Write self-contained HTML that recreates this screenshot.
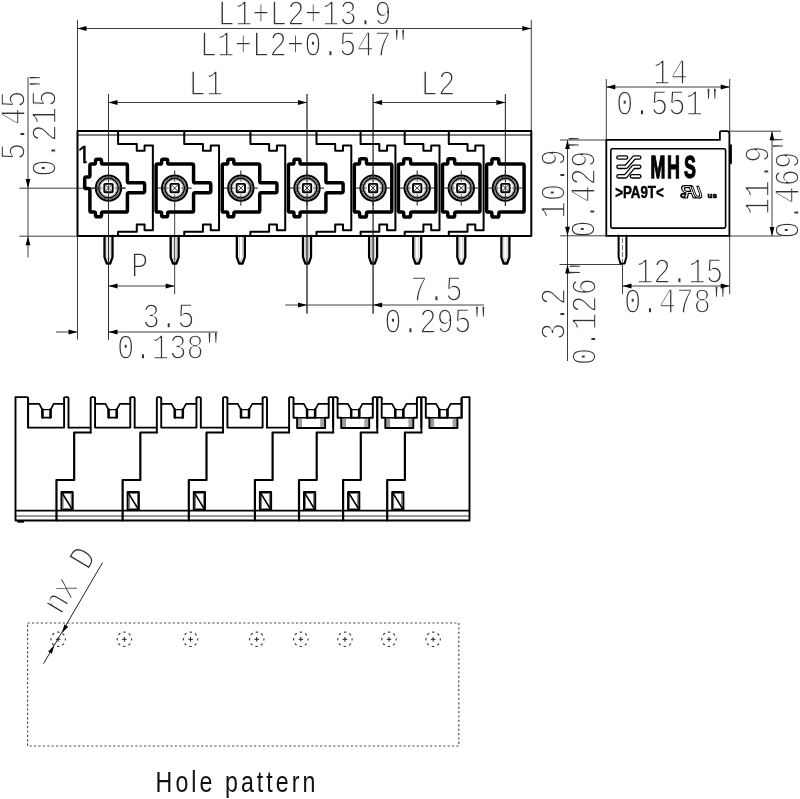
<!DOCTYPE html>
<html><head><meta charset="utf-8"><title>Hole pattern drawing</title>
<style>
html,body{margin:0;padding:0;background:#fff;}
svg{display:block;will-change:transform;filter:grayscale(1);}
.d{font-family:"Liberation Mono","DejaVu Sans Mono",monospace;fill:#333;stroke:#fff;stroke-width:1.55px;}
.b{fill:none;stroke:#000;stroke-linejoin:round;stroke-linecap:round;}
.lab{font-family:"Liberation Sans","DejaVu Sans",sans-serif;font-weight:bold;fill:#000;}
</style></head><body>
<svg width="800" height="799" viewBox="0 0 800 799">
<rect width="800" height="799" fill="#fff"/>

<g id="dimtext">
<text class="d" transform="translate(217.50,25.10) rotate(0) scale(0.798,1)" font-size="36.4">L1+L2+13.9</text>
<text class="d" transform="translate(199.70,55.70) rotate(0) scale(0.798,1)" font-size="36.4">L1+L2+0.547"</text>
<text class="d" transform="translate(188.50,95.20) rotate(0) scale(0.798,1)" font-size="36.4">L1</text>
<text class="d" transform="translate(420.60,95.20) rotate(0) scale(0.798,1)" font-size="36.4">L2</text>
<text class="d" transform="translate(130.90,276.70) rotate(0) scale(0.798,1)" font-size="36.4">P</text>
<text class="d" transform="translate(142.50,327.70) rotate(0) scale(0.798,1)" font-size="36.4">3.5</text>
<text class="d" transform="translate(116.90,358.70) rotate(0) scale(0.798,1)" font-size="36.4">0.138"</text>
<text class="d" transform="translate(410.30,301.30) rotate(0) scale(0.798,1)" font-size="36.4">7.5</text>
<text class="d" transform="translate(384.30,332.70) rotate(0) scale(0.798,1)" font-size="36.4">0.295"</text>
<text class="d" transform="translate(653.00,83.70) rotate(0) scale(0.798,1)" font-size="36.4">14</text>
<text class="d" transform="translate(615.90,115.20) rotate(0) scale(0.798,1)" font-size="36.4">0.551"</text>
<text class="d" transform="translate(636.00,282.70) rotate(0) scale(0.798,1)" font-size="36.4">12.15</text>
<text class="d" transform="translate(623.90,313.20) rotate(0) scale(0.798,1)" font-size="36.4">0.478"</text>
<text class="d" transform="translate(24.90,160.20) rotate(-90) scale(0.798,1)" font-size="36.4">5.45</text>
<text class="d" transform="translate(56.40,176.70) rotate(-90) scale(0.798,1)" font-size="36.4">0.215"</text>
<text class="d" transform="translate(564.90,218.70) rotate(-90) scale(0.798,1)" font-size="36.4">10.9</text>
<text class="d" transform="translate(594.90,237.70) rotate(-90) scale(0.798,1)" font-size="36.4">0.429"</text>
<text class="d" transform="translate(768.90,215.20) rotate(-90) scale(0.798,1)" font-size="36.4">11.9</text>
<text class="d" transform="translate(799.40,238.70) rotate(-90) scale(0.798,1)" font-size="36.4">0.469"</text>
<text class="d" transform="translate(564.90,340.20) rotate(-90) scale(0.798,1)" font-size="36.4">3.2</text>
<text class="d" transform="translate(596.40,365.20) rotate(-90) scale(0.798,1)" font-size="36.4">0.126"</text>
</g>
<g id="dimlines">
<line x1="77.50" y1="19.80" x2="77.50" y2="339.60" stroke="#2a2a2a" stroke-width="0.9" />
<line x1="531.30" y1="19.80" x2="531.30" y2="131.10" stroke="#2a2a2a" stroke-width="0.9" />
<line x1="77.50" y1="28.50" x2="531.30" y2="28.50" stroke="#2a2a2a" stroke-width="0.9" />
<polygon points="77.50,28.50 86.50,26.10 86.50,30.90" fill="#000"/>
<polygon points="531.30,28.50 522.30,30.90 522.30,26.10" fill="#000"/>
<line x1="108.50" y1="94.00" x2="108.50" y2="339.60" stroke="#2a2a2a" stroke-width="0.9" />
<line x1="307.01" y1="94.00" x2="307.01" y2="313.60" stroke="#2a2a2a" stroke-width="0.9" />
<line x1="108.50" y1="102.50" x2="307.01" y2="102.50" stroke="#2a2a2a" stroke-width="0.9" />
<polygon points="108.50,102.50 117.50,100.10 117.50,104.90" fill="#000"/>
<polygon points="307.01,102.50 298.01,104.90 298.01,100.10" fill="#000"/>
<line x1="373.10" y1="94.00" x2="373.10" y2="313.60" stroke="#2a2a2a" stroke-width="0.9" />
<line x1="505.40" y1="94.00" x2="505.40" y2="206.00" stroke="#2a2a2a" stroke-width="0.9" />
<line x1="373.10" y1="102.50" x2="505.40" y2="102.50" stroke="#2a2a2a" stroke-width="0.9" />
<polygon points="373.10,102.50 382.10,100.10 382.10,104.90" fill="#000"/>
<polygon points="505.40,102.50 496.40,104.90 496.40,100.10" fill="#000"/>
<line x1="28.00" y1="77.00" x2="28.00" y2="257.40" stroke="#2a2a2a" stroke-width="0.9" />
<polygon points="28.00,188.10 25.60,179.10 30.40,179.10" fill="#000"/>
<polygon points="28.00,236.20 30.40,245.20 25.60,245.20" fill="#000"/>
<line x1="19.30" y1="188.20" x2="125.50" y2="188.20" stroke="#2a2a2a" stroke-width="0.9" />
<line x1="19.30" y1="236.20" x2="77.50" y2="236.20" stroke="#2a2a2a" stroke-width="0.9" />
<line x1="174.67" y1="205.10" x2="174.67" y2="294.00" stroke="#2a2a2a" stroke-width="0.9" />
<line x1="108.50" y1="286.00" x2="174.67" y2="286.00" stroke="#2a2a2a" stroke-width="0.9" />
<polygon points="108.50,286.00 117.50,283.60 117.50,288.40" fill="#000"/>
<polygon points="174.67,286.00 165.67,288.40 165.67,283.60" fill="#000"/>
<line x1="56.00" y1="332.00" x2="77.50" y2="332.00" stroke="#2a2a2a" stroke-width="0.9" />
<line x1="108.50" y1="332.00" x2="217.70" y2="332.00" stroke="#2a2a2a" stroke-width="0.9" />
<polygon points="77.50,332.00 68.50,334.40 68.50,329.60" fill="#000"/>
<polygon points="108.50,332.00 117.50,329.60 117.50,334.40" fill="#000"/>
<line x1="285.30" y1="305.00" x2="484.00" y2="305.00" stroke="#2a2a2a" stroke-width="0.9" />
<polygon points="307.01,305.00 298.01,307.40 298.01,302.60" fill="#000"/>
<polygon points="373.10,305.00 382.10,302.60 382.10,307.40" fill="#000"/>
<line x1="567.50" y1="140.00" x2="567.50" y2="361.00" stroke="#2a2a2a" stroke-width="0.9" />
<polygon points="567.50,140.00 569.90,149.00 565.10,149.00" fill="#000"/>
<polygon points="567.50,235.80 565.10,226.80 569.90,226.80" fill="#000"/>
<polygon points="567.50,264.50 569.90,273.50 565.10,273.50" fill="#000"/>
<line x1="560.00" y1="140.00" x2="606.00" y2="140.00" stroke="#2a2a2a" stroke-width="0.9" />
<line x1="560.00" y1="235.80" x2="606.00" y2="235.80" stroke="#2a2a2a" stroke-width="0.9" />
<line x1="559.50" y1="264.50" x2="622.50" y2="264.50" stroke="#2a2a2a" stroke-width="0.9" />
<line x1="606.30" y1="79.00" x2="606.30" y2="140.00" stroke="#2a2a2a" stroke-width="0.9" />
<line x1="729.70" y1="79.00" x2="729.70" y2="131.00" stroke="#2a2a2a" stroke-width="0.9" />
<line x1="606.30" y1="87.00" x2="729.70" y2="87.00" stroke="#2a2a2a" stroke-width="0.9" />
<polygon points="606.30,87.00 615.30,84.60 615.30,89.40" fill="#000"/>
<polygon points="729.70,87.00 720.70,89.40 720.70,84.60" fill="#000"/>
<line x1="772.00" y1="131.20" x2="772.00" y2="236.00" stroke="#2a2a2a" stroke-width="0.9" />
<polygon points="772.00,131.20 774.40,140.20 769.60,140.20" fill="#000"/>
<polygon points="772.00,236.00 769.60,227.00 774.40,227.00" fill="#000"/>
<line x1="729.70" y1="131.20" x2="781.00" y2="131.20" stroke="#2a2a2a" stroke-width="0.9" />
<line x1="729.70" y1="236.00" x2="781.00" y2="236.00" stroke="#2a2a2a" stroke-width="0.9" />
<line x1="622.50" y1="264.50" x2="622.50" y2="294.00" stroke="#2a2a2a" stroke-width="0.9" />
<line x1="729.70" y1="236.00" x2="729.70" y2="294.00" stroke="#2a2a2a" stroke-width="0.9" />
<line x1="622.50" y1="286.00" x2="729.70" y2="286.00" stroke="#2a2a2a" stroke-width="0.9" />
<polygon points="622.50,286.00 631.50,283.60 631.50,288.40" fill="#000"/>
<polygon points="729.70,286.00 720.70,288.40 720.70,283.60" fill="#000"/>
</g>
<g id="topview">
<line x1="91.50" y1="188.10" x2="125.50" y2="188.10" stroke="#2a2a2a" stroke-width="0.7" />
<line x1="108.50" y1="170.60" x2="108.50" y2="205.60" stroke="#2a2a2a" stroke-width="0.7" />
<line x1="157.67" y1="188.10" x2="191.67" y2="188.10" stroke="#2a2a2a" stroke-width="0.7" />
<line x1="174.67" y1="170.60" x2="174.67" y2="205.60" stroke="#2a2a2a" stroke-width="0.7" />
<line x1="223.84" y1="188.10" x2="257.84" y2="188.10" stroke="#2a2a2a" stroke-width="0.7" />
<line x1="240.84" y1="170.60" x2="240.84" y2="205.60" stroke="#2a2a2a" stroke-width="0.7" />
<line x1="290.01" y1="188.10" x2="324.01" y2="188.10" stroke="#2a2a2a" stroke-width="0.7" />
<line x1="307.01" y1="170.60" x2="307.01" y2="205.60" stroke="#2a2a2a" stroke-width="0.7" />
<line x1="356.10" y1="188.10" x2="390.10" y2="188.10" stroke="#2a2a2a" stroke-width="0.7" />
<line x1="373.10" y1="170.60" x2="373.10" y2="205.60" stroke="#2a2a2a" stroke-width="0.7" />
<line x1="400.20" y1="188.10" x2="434.20" y2="188.10" stroke="#2a2a2a" stroke-width="0.7" />
<line x1="417.20" y1="170.60" x2="417.20" y2="205.60" stroke="#2a2a2a" stroke-width="0.7" />
<line x1="444.30" y1="188.10" x2="478.30" y2="188.10" stroke="#2a2a2a" stroke-width="0.7" />
<line x1="461.30" y1="170.60" x2="461.30" y2="205.60" stroke="#2a2a2a" stroke-width="0.7" />
<line x1="488.40" y1="188.10" x2="522.40" y2="188.10" stroke="#2a2a2a" stroke-width="0.7" />
<line x1="505.40" y1="170.60" x2="505.40" y2="205.60" stroke="#2a2a2a" stroke-width="0.7" />
<rect class="b" x="77.5" y="131.1" width="453.80" height="104.80" stroke-width="2"/>
<line x1="77.50" y1="135.00" x2="531.30" y2="135.00" stroke="#000" stroke-width="1.0" />
<path class="b" stroke-width="2" d="M118.07,131.1 V143.9 H136.77 V150.8 H144.57 V145.5 H152.87 V230.3 H144.57 V224.4 H136.77 V231.7 H118.07 V235.9"/>
<path class="b" stroke-width="2" d="M184.24,131.1 V143.9 H202.94 V150.8 H210.74 V145.5 H219.04 V230.3 H210.74 V224.4 H202.94 V231.7 H184.24 V235.9"/>
<path class="b" stroke-width="2" d="M250.41,131.1 V143.9 H269.11 V150.8 H276.91 V145.5 H285.21 V230.3 H276.91 V224.4 H269.11 V231.7 H250.41 V235.9"/>
<path class="b" stroke-width="2" d="M316.50,131.1 V143.9 H335.20 V150.8 H343.00 V145.5 H351.30 V230.3 H343.00 V224.4 H335.20 V231.7 H316.50 V235.9"/>
<path class="b" stroke-width="2" d="M360.60,131.1 V143.9 H379.30 V150.8 H387.10 V145.5 H395.40 V230.3 H387.10 V224.4 H379.30 V231.7 H360.60 V235.9"/>
<path class="b" stroke-width="2" d="M404.70,131.1 V143.9 H423.40 V150.8 H431.20 V145.5 H439.50 V230.3 H431.20 V224.4 H423.40 V231.7 H404.70 V235.9"/>
<path class="b" stroke-width="2" d="M448.80,131.1 V143.9 H467.50 V150.8 H475.30 V145.5 H483.60 V230.3 H475.30 V224.4 H467.50 V231.7 H448.80 V235.9"/>
<g transform="translate(108.50,188.1)"><path class="b" stroke-width="3.5" d="M-18.60,-22.40 Q-18.60,-24.00 -17.00,-24.00 L-14.60,-24.00 Q-13.00,-24.00 -13.00,-25.60 L-13.00,-27.30 Q-13.00,-28.90 -11.40,-28.90 L-8.60,-28.90 Q-7.00,-28.90 -7.00,-27.30 L-7.00,-25.60 Q-7.00,-24.00 -5.40,-24.00 L17.30,-24.00 Q18.90,-24.00 18.90,-22.40 L18.90,-6.90 Q18.90,-5.30 20.50,-5.30 L34.50,-5.30 Q36.10,-5.30 36.10,-3.70 L36.10,3.00 Q36.10,4.60 34.50,4.60 L20.50,4.60 Q18.90,4.60 18.90,6.20 L18.90,22.40 Q18.90,24.00 17.30,24.00 L-5.40,24.00 Q-7.00,24.00 -7.00,25.60 L-7.00,27.10 Q-7.00,28.70 -8.60,28.70 L-11.40,28.70 Q-13.00,28.70 -13.00,27.10 L-13.00,25.60 Q-13.00,24.00 -14.60,24.00 L-17.00,24.00 Q-18.60,24.00 -18.60,22.40 L-18.60,2.10 Q-18.60,0.50 -20.20,0.50 L-22.20,0.50 Q-23.80,0.50 -23.80,-1.10 L-23.80,-9.40 Q-23.80,-11.00 -22.20,-11.00 L-20.20,-11.00 Q-18.60,-11.00 -18.60,-12.60 Z"/><circle r="12.7" fill="#fff" stroke="#000" stroke-width="2"/><circle r="11.2" fill="none" stroke="#444" stroke-width="0.9"/><circle r="9.8" fill="none" stroke="#000" stroke-width="1.5"/><circle r="8.4" fill="none" stroke="#666" stroke-width="0.6"/><line x1="-17" y1="0" x2="-6" y2="0" stroke="#333" stroke-width="0.7"/><line x1="6" y1="0" x2="17" y2="0" stroke="#333" stroke-width="0.7"/><line y1="-17.5" x1="0" y2="-6" x2="0" stroke="#333" stroke-width="0.7"/><line y1="6" x1="0" y2="17.5" x2="0" stroke="#333" stroke-width="0.7"/><rect x="-4.2" y="-4.2" width="8.4" height="8.4" rx="0.8" fill="#fff" stroke="#000" stroke-width="1.9"/><path d="M-3,-3 L3,3 M3,-3 L-3,3" stroke="#000" stroke-width="0.8" fill="none"/></g>
<g transform="translate(174.67,188.1)"><path class="b" stroke-width="3.5" d="M-18.60,-22.40 Q-18.60,-24.00 -17.00,-24.00 L-14.60,-24.00 Q-13.00,-24.00 -13.00,-25.60 L-13.00,-27.30 Q-13.00,-28.90 -11.40,-28.90 L-8.60,-28.90 Q-7.00,-28.90 -7.00,-27.30 L-7.00,-25.60 Q-7.00,-24.00 -5.40,-24.00 L17.30,-24.00 Q18.90,-24.00 18.90,-22.40 L18.90,-6.90 Q18.90,-5.30 20.50,-5.30 L34.50,-5.30 Q36.10,-5.30 36.10,-3.70 L36.10,3.00 Q36.10,4.60 34.50,4.60 L20.50,4.60 Q18.90,4.60 18.90,6.20 L18.90,22.40 Q18.90,24.00 17.30,24.00 L-5.40,24.00 Q-7.00,24.00 -7.00,25.60 L-7.00,27.10 Q-7.00,28.70 -8.60,28.70 L-11.40,28.70 Q-13.00,28.70 -13.00,27.10 L-13.00,25.60 Q-13.00,24.00 -14.60,24.00 L-17.00,24.00 Q-18.60,24.00 -18.60,22.40 Z"/><circle r="12.7" fill="#fff" stroke="#000" stroke-width="2"/><circle r="11.2" fill="none" stroke="#444" stroke-width="0.9"/><circle r="9.8" fill="none" stroke="#000" stroke-width="1.5"/><circle r="8.4" fill="none" stroke="#666" stroke-width="0.6"/><line x1="-17" y1="0" x2="-6" y2="0" stroke="#333" stroke-width="0.7"/><line x1="6" y1="0" x2="17" y2="0" stroke="#333" stroke-width="0.7"/><line y1="-17.5" x1="0" y2="-6" x2="0" stroke="#333" stroke-width="0.7"/><line y1="6" x1="0" y2="17.5" x2="0" stroke="#333" stroke-width="0.7"/><rect x="-4.2" y="-4.2" width="8.4" height="8.4" rx="0.8" fill="#fff" stroke="#000" stroke-width="1.9"/><path d="M-3,-3 L3,3 M3,-3 L-3,3" stroke="#000" stroke-width="0.8" fill="none"/></g>
<g transform="translate(240.84,188.1)"><path class="b" stroke-width="3.5" d="M-18.60,-22.40 Q-18.60,-24.00 -17.00,-24.00 L-14.60,-24.00 Q-13.00,-24.00 -13.00,-25.60 L-13.00,-27.30 Q-13.00,-28.90 -11.40,-28.90 L-8.60,-28.90 Q-7.00,-28.90 -7.00,-27.30 L-7.00,-25.60 Q-7.00,-24.00 -5.40,-24.00 L17.30,-24.00 Q18.90,-24.00 18.90,-22.40 L18.90,-6.90 Q18.90,-5.30 20.50,-5.30 L34.50,-5.30 Q36.10,-5.30 36.10,-3.70 L36.10,3.00 Q36.10,4.60 34.50,4.60 L20.50,4.60 Q18.90,4.60 18.90,6.20 L18.90,22.40 Q18.90,24.00 17.30,24.00 L-5.40,24.00 Q-7.00,24.00 -7.00,25.60 L-7.00,27.10 Q-7.00,28.70 -8.60,28.70 L-11.40,28.70 Q-13.00,28.70 -13.00,27.10 L-13.00,25.60 Q-13.00,24.00 -14.60,24.00 L-17.00,24.00 Q-18.60,24.00 -18.60,22.40 Z"/><circle r="12.7" fill="#fff" stroke="#000" stroke-width="2"/><circle r="11.2" fill="none" stroke="#444" stroke-width="0.9"/><circle r="9.8" fill="none" stroke="#000" stroke-width="1.5"/><circle r="8.4" fill="none" stroke="#666" stroke-width="0.6"/><line x1="-17" y1="0" x2="-6" y2="0" stroke="#333" stroke-width="0.7"/><line x1="6" y1="0" x2="17" y2="0" stroke="#333" stroke-width="0.7"/><line y1="-17.5" x1="0" y2="-6" x2="0" stroke="#333" stroke-width="0.7"/><line y1="6" x1="0" y2="17.5" x2="0" stroke="#333" stroke-width="0.7"/><rect x="-4.2" y="-4.2" width="8.4" height="8.4" rx="0.8" fill="#fff" stroke="#000" stroke-width="1.9"/><path d="M-3,-3 L3,3 M3,-3 L-3,3" stroke="#000" stroke-width="0.8" fill="none"/></g>
<g transform="translate(307.01,188.1)"><path class="b" stroke-width="3.5" d="M-18.60,-22.40 Q-18.60,-24.00 -17.00,-24.00 L-14.60,-24.00 Q-13.00,-24.00 -13.00,-25.60 L-13.00,-27.30 Q-13.00,-28.90 -11.40,-28.90 L-8.60,-28.90 Q-7.00,-28.90 -7.00,-27.30 L-7.00,-25.60 Q-7.00,-24.00 -5.40,-24.00 L17.30,-24.00 Q18.90,-24.00 18.90,-22.40 L18.90,-6.90 Q18.90,-5.30 20.50,-5.30 L34.50,-5.30 Q36.10,-5.30 36.10,-3.70 L36.10,3.00 Q36.10,4.60 34.50,4.60 L20.50,4.60 Q18.90,4.60 18.90,6.20 L18.90,22.40 Q18.90,24.00 17.30,24.00 L-5.40,24.00 Q-7.00,24.00 -7.00,25.60 L-7.00,27.10 Q-7.00,28.70 -8.60,28.70 L-11.40,28.70 Q-13.00,28.70 -13.00,27.10 L-13.00,25.60 Q-13.00,24.00 -14.60,24.00 L-17.00,24.00 Q-18.60,24.00 -18.60,22.40 Z"/><circle r="12.7" fill="#fff" stroke="#000" stroke-width="2"/><circle r="11.2" fill="none" stroke="#444" stroke-width="0.9"/><circle r="9.8" fill="none" stroke="#000" stroke-width="1.5"/><circle r="8.4" fill="none" stroke="#666" stroke-width="0.6"/><line x1="-17" y1="0" x2="-6" y2="0" stroke="#333" stroke-width="0.7"/><line x1="6" y1="0" x2="17" y2="0" stroke="#333" stroke-width="0.7"/><line y1="-17.5" x1="0" y2="-6" x2="0" stroke="#333" stroke-width="0.7"/><line y1="6" x1="0" y2="17.5" x2="0" stroke="#333" stroke-width="0.7"/><rect x="-4.2" y="-4.2" width="8.4" height="8.4" rx="0.8" fill="#fff" stroke="#000" stroke-width="1.9"/><path d="M-3,-3 L3,3 M3,-3 L-3,3" stroke="#000" stroke-width="0.8" fill="none"/></g>
<g transform="translate(373.10,188.1)"><path class="b" stroke-width="3.5" d="M-18.80,-22.40 Q-18.80,-24.00 -17.20,-24.00 L-15.10,-24.00 Q-13.50,-24.00 -13.50,-25.60 L-13.50,-27.70 Q-13.50,-29.30 -11.90,-29.30 L-8.20,-29.30 Q-6.60,-29.30 -6.60,-27.70 L-6.60,-25.60 Q-6.60,-24.00 -5.00,-24.00 L17.10,-24.00 Q18.70,-24.00 18.70,-22.40 L18.70,22.40 Q18.70,24.00 17.10,24.00 L-5.00,24.00 Q-6.60,24.00 -6.60,25.60 L-6.60,27.40 Q-6.60,29.00 -8.20,29.00 L-11.90,29.00 Q-13.50,29.00 -13.50,27.40 L-13.50,25.60 Q-13.50,24.00 -15.10,24.00 L-17.20,24.00 Q-18.80,24.00 -18.80,22.40 Z"/><circle r="12.7" fill="#fff" stroke="#000" stroke-width="2"/><circle r="11.2" fill="none" stroke="#444" stroke-width="0.9"/><circle r="9.8" fill="none" stroke="#000" stroke-width="1.5"/><circle r="8.4" fill="none" stroke="#666" stroke-width="0.6"/><line x1="-17" y1="0" x2="-6" y2="0" stroke="#333" stroke-width="0.7"/><line x1="6" y1="0" x2="17" y2="0" stroke="#333" stroke-width="0.7"/><line y1="-17.5" x1="0" y2="-6" x2="0" stroke="#333" stroke-width="0.7"/><line y1="6" x1="0" y2="17.5" x2="0" stroke="#333" stroke-width="0.7"/><rect x="-4.2" y="-4.2" width="8.4" height="8.4" rx="0.8" fill="#fff" stroke="#000" stroke-width="1.9"/><path d="M-3,-3 L3,3 M3,-3 L-3,3" stroke="#000" stroke-width="0.8" fill="none"/></g>
<g transform="translate(417.20,188.1)"><path class="b" stroke-width="3.5" d="M-18.80,-22.40 Q-18.80,-24.00 -17.20,-24.00 L-15.10,-24.00 Q-13.50,-24.00 -13.50,-25.60 L-13.50,-27.70 Q-13.50,-29.30 -11.90,-29.30 L-8.20,-29.30 Q-6.60,-29.30 -6.60,-27.70 L-6.60,-25.60 Q-6.60,-24.00 -5.00,-24.00 L17.10,-24.00 Q18.70,-24.00 18.70,-22.40 L18.70,22.40 Q18.70,24.00 17.10,24.00 L-5.00,24.00 Q-6.60,24.00 -6.60,25.60 L-6.60,27.40 Q-6.60,29.00 -8.20,29.00 L-11.90,29.00 Q-13.50,29.00 -13.50,27.40 L-13.50,25.60 Q-13.50,24.00 -15.10,24.00 L-17.20,24.00 Q-18.80,24.00 -18.80,22.40 Z"/><circle r="12.7" fill="#fff" stroke="#000" stroke-width="2"/><circle r="11.2" fill="none" stroke="#444" stroke-width="0.9"/><circle r="9.8" fill="none" stroke="#000" stroke-width="1.5"/><circle r="8.4" fill="none" stroke="#666" stroke-width="0.6"/><line x1="-17" y1="0" x2="-6" y2="0" stroke="#333" stroke-width="0.7"/><line x1="6" y1="0" x2="17" y2="0" stroke="#333" stroke-width="0.7"/><line y1="-17.5" x1="0" y2="-6" x2="0" stroke="#333" stroke-width="0.7"/><line y1="6" x1="0" y2="17.5" x2="0" stroke="#333" stroke-width="0.7"/><rect x="-4.2" y="-4.2" width="8.4" height="8.4" rx="0.8" fill="#fff" stroke="#000" stroke-width="1.9"/><path d="M-3,-3 L3,3 M3,-3 L-3,3" stroke="#000" stroke-width="0.8" fill="none"/></g>
<g transform="translate(461.30,188.1)"><path class="b" stroke-width="3.5" d="M-18.80,-22.40 Q-18.80,-24.00 -17.20,-24.00 L-15.10,-24.00 Q-13.50,-24.00 -13.50,-25.60 L-13.50,-27.70 Q-13.50,-29.30 -11.90,-29.30 L-8.20,-29.30 Q-6.60,-29.30 -6.60,-27.70 L-6.60,-25.60 Q-6.60,-24.00 -5.00,-24.00 L17.10,-24.00 Q18.70,-24.00 18.70,-22.40 L18.70,22.40 Q18.70,24.00 17.10,24.00 L-5.00,24.00 Q-6.60,24.00 -6.60,25.60 L-6.60,27.40 Q-6.60,29.00 -8.20,29.00 L-11.90,29.00 Q-13.50,29.00 -13.50,27.40 L-13.50,25.60 Q-13.50,24.00 -15.10,24.00 L-17.20,24.00 Q-18.80,24.00 -18.80,22.40 Z"/><circle r="12.7" fill="#fff" stroke="#000" stroke-width="2"/><circle r="11.2" fill="none" stroke="#444" stroke-width="0.9"/><circle r="9.8" fill="none" stroke="#000" stroke-width="1.5"/><circle r="8.4" fill="none" stroke="#666" stroke-width="0.6"/><line x1="-17" y1="0" x2="-6" y2="0" stroke="#333" stroke-width="0.7"/><line x1="6" y1="0" x2="17" y2="0" stroke="#333" stroke-width="0.7"/><line y1="-17.5" x1="0" y2="-6" x2="0" stroke="#333" stroke-width="0.7"/><line y1="6" x1="0" y2="17.5" x2="0" stroke="#333" stroke-width="0.7"/><rect x="-4.2" y="-4.2" width="8.4" height="8.4" rx="0.8" fill="#fff" stroke="#000" stroke-width="1.9"/><path d="M-3,-3 L3,3 M3,-3 L-3,3" stroke="#000" stroke-width="0.8" fill="none"/></g>
<g transform="translate(505.40,188.1)"><path class="b" stroke-width="3.5" d="M-18.80,-22.40 Q-18.80,-24.00 -17.20,-24.00 L-15.10,-24.00 Q-13.50,-24.00 -13.50,-25.60 L-13.50,-27.70 Q-13.50,-29.30 -11.90,-29.30 L-8.20,-29.30 Q-6.60,-29.30 -6.60,-27.70 L-6.60,-25.60 Q-6.60,-24.00 -5.00,-24.00 L17.10,-24.00 Q18.70,-24.00 18.70,-22.40 L18.70,22.40 Q18.70,24.00 17.10,24.00 L-5.00,24.00 Q-6.60,24.00 -6.60,25.60 L-6.60,27.40 Q-6.60,29.00 -8.20,29.00 L-11.90,29.00 Q-13.50,29.00 -13.50,27.40 L-13.50,25.60 Q-13.50,24.00 -15.10,24.00 L-17.20,24.00 Q-18.80,24.00 -18.80,22.40 Z"/><circle r="12.7" fill="#fff" stroke="#000" stroke-width="2"/><circle r="11.2" fill="none" stroke="#444" stroke-width="0.9"/><circle r="9.8" fill="none" stroke="#000" stroke-width="1.5"/><circle r="8.4" fill="none" stroke="#666" stroke-width="0.6"/><line x1="-17" y1="0" x2="-6" y2="0" stroke="#333" stroke-width="0.7"/><line x1="6" y1="0" x2="17" y2="0" stroke="#333" stroke-width="0.7"/><line y1="-17.5" x1="0" y2="-6" x2="0" stroke="#333" stroke-width="0.7"/><line y1="6" x1="0" y2="17.5" x2="0" stroke="#333" stroke-width="0.7"/><rect x="-4.2" y="-4.2" width="8.4" height="8.4" rx="0.8" fill="#fff" stroke="#000" stroke-width="1.9"/><path d="M-3,-3 L3,3 M3,-3 L-3,3" stroke="#000" stroke-width="0.8" fill="none"/></g>
<path class="b" stroke-width="2.3" fill="#fff" d="M104.50,235.9 V257.2 L106.80,263.5 H110.20 L112.50,257.2 V235.9"/>
<path d="M106.90,236.9 V257 L108.50,262 L110.10,257 V236.9" fill="none" stroke="#888" stroke-width="0.5"/>
<path class="b" stroke-width="2.3" fill="#fff" d="M170.67,235.9 V257.2 L172.97,263.5 H176.37 L178.67,257.2 V235.9"/>
<path d="M173.07,236.9 V257 L174.67,262 L176.27,257 V236.9" fill="none" stroke="#888" stroke-width="0.5"/>
<path class="b" stroke-width="2.3" fill="#fff" d="M236.84,235.9 V257.2 L239.14,263.5 H242.54 L244.84,257.2 V235.9"/>
<path d="M239.24,236.9 V257 L240.84,262 L242.44,257 V236.9" fill="none" stroke="#888" stroke-width="0.5"/>
<path class="b" stroke-width="2.3" fill="#fff" d="M303.01,235.9 V257.2 L305.31,263.5 H308.71 L311.01,257.2 V235.9"/>
<path d="M305.41,236.9 V257 L307.01,262 L308.61,257 V236.9" fill="none" stroke="#888" stroke-width="0.5"/>
<path class="b" stroke-width="2.3" fill="#fff" d="M369.10,235.9 V257.2 L371.40,263.5 H374.80 L377.10,257.2 V235.9"/>
<path d="M371.50,236.9 V257 L373.10,262 L374.70,257 V236.9" fill="none" stroke="#888" stroke-width="0.5"/>
<path class="b" stroke-width="2.3" fill="#fff" d="M413.20,235.9 V257.2 L415.50,263.5 H418.90 L421.20,257.2 V235.9"/>
<path d="M415.60,236.9 V257 L417.20,262 L418.80,257 V236.9" fill="none" stroke="#888" stroke-width="0.5"/>
<path class="b" stroke-width="2.3" fill="#fff" d="M457.30,235.9 V257.2 L459.60,263.5 H463.00 L465.30,257.2 V235.9"/>
<path d="M459.70,236.9 V257 L461.30,262 L462.90,257 V236.9" fill="none" stroke="#888" stroke-width="0.5"/>
<path class="b" stroke-width="2.3" fill="#fff" d="M501.40,235.9 V257.2 L503.70,263.5 H507.10 L509.40,257.2 V235.9"/>
<path d="M503.80,236.9 V257 L505.40,262 L507.00,257 V236.9" fill="none" stroke="#888" stroke-width="0.5"/>
<line x1="108.50" y1="236.00" x2="108.50" y2="339.60" stroke="#2a2a2a" stroke-width="0.9" />
<line x1="307.01" y1="236.00" x2="307.01" y2="313.60" stroke="#2a2a2a" stroke-width="0.9" />
<line x1="373.10" y1="236.00" x2="373.10" y2="313.60" stroke="#2a2a2a" stroke-width="0.9" />
<line x1="108.50" y1="94.00" x2="108.50" y2="236.00" stroke="#2a2a2a" stroke-width="0.7" />
<line x1="307.01" y1="94.00" x2="307.01" y2="236.00" stroke="#2a2a2a" stroke-width="0.7" />
<line x1="373.10" y1="94.00" x2="373.10" y2="236.00" stroke="#2a2a2a" stroke-width="0.7" />
<line x1="505.40" y1="94.00" x2="505.40" y2="206.00" stroke="#2a2a2a" stroke-width="0.7" />
<clipPath id="c1"><rect x="78" y="144" width="9.2" height="15.6"/><rect x="83.2" y="159" width="3.4" height="5"/></clipPath>
<text x="77.6" y="162.6" font-family="'Liberation Sans',sans-serif" font-size="23" fill="#000" stroke="#000" stroke-width="0.45" clip-path="url(#c1)">1</text>
</g>
<g id="sideview">
<path class="b" stroke-width="1.8" d="M606.3,139.9 H719.9 V132.4 Q719.9,131.2 721.1,131.2 H727 Q729.4,131.2 729.4,133.6 V235.9 H606.3 Z"/>
<rect class="b" x="610.8" y="148.7" width="114.8" height="79.4" rx="1.6" stroke-width="1.6"/>
<line x1="730.70" y1="145.50" x2="730.70" y2="163.00" stroke="#000" stroke-width="2.4" stroke-linecap="round"/>
<path class="b" stroke-width="2" fill="#fff" d="M618.6,235.8 V257 L620.4,263.4 H624.6 L626.4,257 V235.8"/>
<line x1="622.50" y1="238.00" x2="622.50" y2="262.00" stroke="#333" stroke-width="0.7" stroke-dasharray="5 2"/>
<g fill="none" stroke-linecap="round" stroke-linejoin="round">
<path d="M618.5,157.5 H626" stroke="#000" stroke-width="4.7"/>
<path d="M632,176.3 H639.2" stroke="#000" stroke-width="4.7"/>
<path d="M639.2,157.5 H634.2 L626.2,166.8 H618.5" stroke="#000" stroke-width="4.7"/>
<path d="M639.2,166.8 H633.6 L625.6,176.3 H618.5" stroke="#000" stroke-width="4.7"/>
<path d="M618.5,157.5 H626" stroke="#fff" stroke-width="2.1"/>
<path d="M632,176.3 H639.2" stroke="#fff" stroke-width="2.1"/>
<path d="M639.2,157.5 H634.2 L626.2,166.8 H618.5" stroke="#fff" stroke-width="2.1"/>
<path d="M639.2,166.8 H633.6 L625.6,176.3 H618.5" stroke="#fff" stroke-width="2.1"/>
</g>
<text class="lab" transform="translate(650.6,178.2) scale(0.57,1)" x="0 28.8 58.8" font-size="31.4" font-weight="normal" stroke="#000" stroke-width="1.3">MHS</text>
<text class="lab" transform="translate(615.2,197.7) scale(0.77,1)" font-size="17.3" stroke="#000" stroke-width="0.5">&gt;PA9T&lt;</text>
<text class="lab" x="680.2" y="198.2" font-size="9.5" stroke="#000" stroke-width="0.7">c</text>
<g transform="translate(686,198) skewX(20)"><text class="lab" transform="scale(-1,1)" x="-11" y="0" font-size="18" style="fill:#fff" stroke="#000" stroke-width="1.2">R</text><text class="lab" x="8.5" y="0" font-size="17" style="fill:#fff" stroke="#000" stroke-width="1.2" transform="translate(8.5,0) scale(0.75,1) translate(-8.5,0)">U</text></g>
<text class="lab" x="707.6" y="198.2" font-size="8" stroke="#000" stroke-width="0.7">us</text>
</g>
<g id="frontview">
<path class="b" stroke-width="1.9" d="M28.10,427.6 V398.3 Q28.10,397.1 26.90,397.1 H15.5 V520.5 H469.5 V397.1 H462.80 Q461.60,397.1 461.60,398.3 V417.8"/>
<line x1="15.50" y1="510.60" x2="469.50" y2="510.60" stroke="#000" stroke-width="1.6" />
<line x1="15.50" y1="516.00" x2="469.50" y2="516.00" stroke="#000" stroke-width="0.8" />
<rect x="17.5" y="520.5" width="6.5" height="2.2" fill="#000"/>
<path class="b" stroke-width="1.9" d="M28.10,398.1 V427.6 H64.10 V398.1"/>
<path class="b" stroke-width="1.7" d="M28.10,403.9 H39.30 L42.10,409.2 V417.6 H50.90 V409.2 L53.70,403.9 H64.10"/>
<path class="b" stroke-width="2.3" stroke-linecap="butt" d="M42.60,409.4 V417.6 M50.40,409.4 V417.6"/>
<path class="b" stroke-width="1.4" d="M42.60,409.6 H50.40"/>
<path class="b" stroke-width="1.9" d="M64.10,398.3 Q64.10,397.1 65.30,397.1 H67.30 Q68.50,397.1 68.50,398.3 V427.6"/>
<path class="b" stroke-width="1.9" d="M68.50,427.6 H90.67"/>
<path class="b" stroke-width="2.2" d="M90.67,432.5 H74.17 V480 H56.47 V520.5"/>
<rect class="b" x="61.47" y="492" width="11.2" height="18" stroke-width="2"/>
<path class="b" stroke-width="1.5" d="M62.17,493 L71.97,509"/>
<rect x="63.07" y="493.6" width="8" height="14.8" fill="none" stroke="#000" stroke-width="0.5"/>
<path class="b" stroke-width="1.9" d="M95.07,398.1 V427.6 H130.27 V398.1"/>
<path class="b" stroke-width="1.7" d="M95.07,403.9 H105.47 L108.27,409.2 V417.6 H117.07 V409.2 L119.87,403.9 H130.27"/>
<path class="b" stroke-width="2.3" stroke-linecap="butt" d="M108.77,409.4 V417.6 M116.57,409.4 V417.6"/>
<path class="b" stroke-width="1.4" d="M108.77,409.6 H116.57"/>
<path class="b" stroke-width="1.9" d="M95.07,398.3 Q95.07,397.1 93.87,397.1 H91.87 Q90.67,397.1 90.67,398.3 V432.5"/>
<path class="b" stroke-width="1.9" d="M130.27,398.3 Q130.27,397.1 131.47,397.1 H133.47 Q134.67,397.1 134.67,398.3 V427.6"/>
<path class="b" stroke-width="1.9" d="M134.67,427.6 H156.84"/>
<path class="b" stroke-width="2.2" d="M156.84,432.5 H140.34 V480 H122.64 V520.5"/>
<rect class="b" x="127.64" y="492" width="11.2" height="18" stroke-width="2"/>
<path class="b" stroke-width="1.5" d="M128.34,493 L138.14,509"/>
<rect x="129.24" y="493.6" width="8" height="14.8" fill="none" stroke="#000" stroke-width="0.5"/>
<path class="b" stroke-width="1.9" d="M161.24,398.1 V427.6 H196.44 V398.1"/>
<path class="b" stroke-width="1.7" d="M161.24,403.9 H171.64 L174.44,409.2 V417.6 H183.24 V409.2 L186.04,403.9 H196.44"/>
<path class="b" stroke-width="2.3" stroke-linecap="butt" d="M174.94,409.4 V417.6 M182.74,409.4 V417.6"/>
<path class="b" stroke-width="1.4" d="M174.94,409.6 H182.74"/>
<path class="b" stroke-width="1.9" d="M161.24,398.3 Q161.24,397.1 160.04,397.1 H158.04 Q156.84,397.1 156.84,398.3 V432.5"/>
<path class="b" stroke-width="1.9" d="M196.44,398.3 Q196.44,397.1 197.64,397.1 H199.64 Q200.84,397.1 200.84,398.3 V427.6"/>
<path class="b" stroke-width="1.9" d="M200.84,427.6 H223.01"/>
<path class="b" stroke-width="2.2" d="M223.01,432.5 H206.51 V480 H188.81 V520.5"/>
<rect class="b" x="193.81" y="492" width="11.2" height="18" stroke-width="2"/>
<path class="b" stroke-width="1.5" d="M194.51,493 L204.31,509"/>
<rect x="195.41" y="493.6" width="8" height="14.8" fill="none" stroke="#000" stroke-width="0.5"/>
<path class="b" stroke-width="1.9" d="M227.41,398.1 V427.6 H262.61 V398.1"/>
<path class="b" stroke-width="1.7" d="M227.41,403.9 H237.81 L240.61,409.2 V417.6 H249.41 V409.2 L252.21,403.9 H262.61"/>
<path class="b" stroke-width="2.3" stroke-linecap="butt" d="M241.11,409.4 V417.6 M248.91,409.4 V417.6"/>
<path class="b" stroke-width="1.4" d="M241.11,409.6 H248.91"/>
<path class="b" stroke-width="1.9" d="M227.41,398.3 Q227.41,397.1 226.21,397.1 H224.21 Q223.01,397.1 223.01,398.3 V432.5"/>
<path class="b" stroke-width="1.9" d="M262.61,398.3 Q262.61,397.1 263.81,397.1 H265.81 Q267.01,397.1 267.01,398.3 V427.6"/>
<path class="b" stroke-width="1.9" d="M267.01,427.6 H289.10"/>
<path class="b" stroke-width="2.2" d="M289.10,432.5 H272.60 V480 H254.90 V520.5"/>
<rect class="b" x="259.90" y="492" width="11.2" height="18" stroke-width="2"/>
<path class="b" stroke-width="1.5" d="M260.60,493 L270.40,509"/>
<rect x="261.50" y="493.6" width="8" height="14.8" fill="none" stroke="#000" stroke-width="0.5"/>
<path class="b" stroke-width="1.9" d="M293.50,398.1 V417.8 H297.10 V428 H325.10 V417.8 H328.70 V398.1"/>
<line x1="298.10" y1="418.50" x2="298.10" y2="427.50" stroke="#222" stroke-width="0.5" />
<line x1="324.10" y1="418.50" x2="324.10" y2="427.50" stroke="#222" stroke-width="0.5" />
<line x1="299.20" y1="418.50" x2="299.20" y2="427.50" stroke="#222" stroke-width="0.5" />
<line x1="323.00" y1="418.50" x2="323.00" y2="427.50" stroke="#222" stroke-width="0.5" />
<line x1="300.30" y1="418.50" x2="300.30" y2="427.50" stroke="#222" stroke-width="0.5" />
<line x1="321.90" y1="418.50" x2="321.90" y2="427.50" stroke="#222" stroke-width="0.5" />
<line x1="301.40" y1="418.50" x2="301.40" y2="427.50" stroke="#222" stroke-width="0.5" />
<line x1="320.80" y1="418.50" x2="320.80" y2="427.50" stroke="#222" stroke-width="0.5" />
<line x1="297.10" y1="417.80" x2="325.10" y2="417.80" stroke="#000" stroke-width="1.6" />
<path class="b" stroke-width="1.7" d="M293.50,403.9 H303.90 L306.70,409.2 V417.6 H315.50 V409.2 L318.30,403.9 H328.70"/>
<path class="b" stroke-width="2.3" stroke-linecap="butt" d="M307.20,409.4 V417.6 M315.00,409.4 V417.6"/>
<path class="b" stroke-width="1.4" d="M307.20,409.6 H315.00"/>
<path class="b" stroke-width="1.9" d="M293.50,398.3 Q293.50,397.1 292.30,397.1 H290.30 Q289.10,397.1 289.10,398.3 V432.5"/>
<path class="b" stroke-width="1.9" d="M328.70,398.3 Q328.70,397.1 329.90,397.1 H331.90 Q333.10,397.1 333.10,398.3 V427.6"/>
<path class="b" stroke-width="2.2" d="M333.20,432.5 H316.70 V480 H299.00 V520.5"/>
<rect class="b" x="304.00" y="492" width="11.2" height="18" stroke-width="2"/>
<path class="b" stroke-width="1.5" d="M304.70,493 L314.50,509"/>
<rect x="305.60" y="493.6" width="8" height="14.8" fill="none" stroke="#000" stroke-width="0.5"/>
<path class="b" stroke-width="1.9" d="M337.60,398.1 V417.8 H341.20 V428 H369.20 V417.8 H372.80 V398.1"/>
<line x1="342.20" y1="418.50" x2="342.20" y2="427.50" stroke="#222" stroke-width="0.5" />
<line x1="368.20" y1="418.50" x2="368.20" y2="427.50" stroke="#222" stroke-width="0.5" />
<line x1="343.30" y1="418.50" x2="343.30" y2="427.50" stroke="#222" stroke-width="0.5" />
<line x1="367.10" y1="418.50" x2="367.10" y2="427.50" stroke="#222" stroke-width="0.5" />
<line x1="344.40" y1="418.50" x2="344.40" y2="427.50" stroke="#222" stroke-width="0.5" />
<line x1="366.00" y1="418.50" x2="366.00" y2="427.50" stroke="#222" stroke-width="0.5" />
<line x1="345.50" y1="418.50" x2="345.50" y2="427.50" stroke="#222" stroke-width="0.5" />
<line x1="364.90" y1="418.50" x2="364.90" y2="427.50" stroke="#222" stroke-width="0.5" />
<line x1="341.20" y1="417.80" x2="369.20" y2="417.80" stroke="#000" stroke-width="1.6" />
<path class="b" stroke-width="1.7" d="M337.60,403.9 H348.00 L350.80,409.2 V417.6 H359.60 V409.2 L362.40,403.9 H372.80"/>
<path class="b" stroke-width="2.3" stroke-linecap="butt" d="M351.30,409.4 V417.6 M359.10,409.4 V417.6"/>
<path class="b" stroke-width="1.4" d="M351.30,409.6 H359.10"/>
<path class="b" stroke-width="1.9" d="M337.60,398.3 Q337.60,397.1 336.40,397.1 H334.40 Q333.20,397.1 333.20,398.3 V432.5"/>
<path class="b" stroke-width="1.9" d="M372.80,398.3 Q372.80,397.1 374.00,397.1 H376.00 Q377.20,397.1 377.20,398.3 V427.6"/>
<path class="b" stroke-width="2.2" d="M377.30,432.5 H360.80 V480 H343.10 V520.5"/>
<rect class="b" x="348.10" y="492" width="11.2" height="18" stroke-width="2"/>
<path class="b" stroke-width="1.5" d="M348.80,493 L358.60,509"/>
<rect x="349.70" y="493.6" width="8" height="14.8" fill="none" stroke="#000" stroke-width="0.5"/>
<path class="b" stroke-width="1.9" d="M381.70,398.1 V417.8 H385.30 V428 H413.30 V417.8 H416.90 V398.1"/>
<line x1="386.30" y1="418.50" x2="386.30" y2="427.50" stroke="#222" stroke-width="0.5" />
<line x1="412.30" y1="418.50" x2="412.30" y2="427.50" stroke="#222" stroke-width="0.5" />
<line x1="387.40" y1="418.50" x2="387.40" y2="427.50" stroke="#222" stroke-width="0.5" />
<line x1="411.20" y1="418.50" x2="411.20" y2="427.50" stroke="#222" stroke-width="0.5" />
<line x1="388.50" y1="418.50" x2="388.50" y2="427.50" stroke="#222" stroke-width="0.5" />
<line x1="410.10" y1="418.50" x2="410.10" y2="427.50" stroke="#222" stroke-width="0.5" />
<line x1="389.60" y1="418.50" x2="389.60" y2="427.50" stroke="#222" stroke-width="0.5" />
<line x1="409.00" y1="418.50" x2="409.00" y2="427.50" stroke="#222" stroke-width="0.5" />
<line x1="385.30" y1="417.80" x2="413.30" y2="417.80" stroke="#000" stroke-width="1.6" />
<path class="b" stroke-width="1.7" d="M381.70,403.9 H392.10 L394.90,409.2 V417.6 H403.70 V409.2 L406.50,403.9 H416.90"/>
<path class="b" stroke-width="2.3" stroke-linecap="butt" d="M395.40,409.4 V417.6 M403.20,409.4 V417.6"/>
<path class="b" stroke-width="1.4" d="M395.40,409.6 H403.20"/>
<path class="b" stroke-width="1.9" d="M381.70,398.3 Q381.70,397.1 380.50,397.1 H378.50 Q377.30,397.1 377.30,398.3 V432.5"/>
<path class="b" stroke-width="1.9" d="M416.90,398.3 Q416.90,397.1 418.10,397.1 H420.10 Q421.30,397.1 421.30,398.3 V427.6"/>
<path class="b" stroke-width="2.2" d="M421.40,432.5 H404.90 V480 H387.20 V520.5"/>
<rect class="b" x="392.20" y="492" width="11.2" height="18" stroke-width="2"/>
<path class="b" stroke-width="1.5" d="M392.90,493 L402.70,509"/>
<rect x="393.80" y="493.6" width="8" height="14.8" fill="none" stroke="#000" stroke-width="0.5"/>
<path class="b" stroke-width="1.9" d="M425.80,398.1 V417.8 H429.40 V428 H457.40 V417.8 H461.60 V398.1"/>
<line x1="430.40" y1="418.50" x2="430.40" y2="427.50" stroke="#222" stroke-width="0.5" />
<line x1="456.40" y1="418.50" x2="456.40" y2="427.50" stroke="#222" stroke-width="0.5" />
<line x1="431.50" y1="418.50" x2="431.50" y2="427.50" stroke="#222" stroke-width="0.5" />
<line x1="455.30" y1="418.50" x2="455.30" y2="427.50" stroke="#222" stroke-width="0.5" />
<line x1="432.60" y1="418.50" x2="432.60" y2="427.50" stroke="#222" stroke-width="0.5" />
<line x1="454.20" y1="418.50" x2="454.20" y2="427.50" stroke="#222" stroke-width="0.5" />
<line x1="433.70" y1="418.50" x2="433.70" y2="427.50" stroke="#222" stroke-width="0.5" />
<line x1="453.10" y1="418.50" x2="453.10" y2="427.50" stroke="#222" stroke-width="0.5" />
<line x1="429.40" y1="417.80" x2="457.40" y2="417.80" stroke="#000" stroke-width="1.6" />
<path class="b" stroke-width="1.7" d="M425.80,403.9 H436.20 L439.00,409.2 V417.6 H447.80 V409.2 L450.60,403.9 H461.60"/>
<path class="b" stroke-width="2.3" stroke-linecap="butt" d="M439.50,409.4 V417.6 M447.30,409.4 V417.6"/>
<path class="b" stroke-width="1.4" d="M439.50,409.6 H447.30"/>
<path class="b" stroke-width="1.9" d="M425.80,398.3 Q425.80,397.1 424.60,397.1 H422.60 Q421.40,397.1 421.40,398.3 V432.5"/>
</g>
<g id="holes">
<rect x="27.6" y="623" width="431.2" height="123" fill="none" stroke="#4c4c4c" stroke-width="1.15" stroke-dasharray="2.2 2.2"/>
<circle cx="58.20" cy="639.3" r="7.2" fill="none" stroke="#3a3a3a" stroke-width="1.15" stroke-dasharray="2.45 3.2" stroke-dashoffset="1.22"/>
<path d="M55.90,639.3 H60.50 M58.20,637 V641.6" stroke="#222" stroke-width="1" fill="none"/>
<circle cx="124.37" cy="639.3" r="7.2" fill="none" stroke="#3a3a3a" stroke-width="1.15" stroke-dasharray="2.45 3.2" stroke-dashoffset="1.22"/>
<path d="M122.07,639.3 H126.67 M124.37,637 V641.6" stroke="#222" stroke-width="1" fill="none"/>
<circle cx="190.54" cy="639.3" r="7.2" fill="none" stroke="#3a3a3a" stroke-width="1.15" stroke-dasharray="2.45 3.2" stroke-dashoffset="1.22"/>
<path d="M188.24,639.3 H192.84 M190.54,637 V641.6" stroke="#222" stroke-width="1" fill="none"/>
<circle cx="256.71" cy="639.3" r="7.2" fill="none" stroke="#3a3a3a" stroke-width="1.15" stroke-dasharray="2.45 3.2" stroke-dashoffset="1.22"/>
<path d="M254.41,639.3 H259.01 M256.71,637 V641.6" stroke="#222" stroke-width="1" fill="none"/>
<circle cx="300.81" cy="639.3" r="7.2" fill="none" stroke="#3a3a3a" stroke-width="1.15" stroke-dasharray="2.45 3.2" stroke-dashoffset="1.22"/>
<path d="M298.51,639.3 H303.11 M300.81,637 V641.6" stroke="#222" stroke-width="1" fill="none"/>
<circle cx="344.91" cy="639.3" r="7.2" fill="none" stroke="#3a3a3a" stroke-width="1.15" stroke-dasharray="2.45 3.2" stroke-dashoffset="1.22"/>
<path d="M342.61,639.3 H347.21 M344.91,637 V641.6" stroke="#222" stroke-width="1" fill="none"/>
<circle cx="389.01" cy="639.3" r="7.2" fill="none" stroke="#3a3a3a" stroke-width="1.15" stroke-dasharray="2.45 3.2" stroke-dashoffset="1.22"/>
<path d="M386.71,639.3 H391.31 M389.01,637 V641.6" stroke="#222" stroke-width="1" fill="none"/>
<circle cx="433.11" cy="639.3" r="7.2" fill="none" stroke="#3a3a3a" stroke-width="1.15" stroke-dasharray="2.45 3.2" stroke-dashoffset="1.22"/>
<path d="M430.81,639.3 H435.41 M433.11,637 V641.6" stroke="#222" stroke-width="1" fill="none"/>
<line x1="102.50" y1="562.60" x2="43.60" y2="663.60" stroke="#222" stroke-width="1.0" />
<polygon points="62.00,632.90 64.38,624.45 68.18,626.67" fill="#000"/>
<polygon points="54.30,645.20 51.92,653.65 48.12,651.43" fill="#000"/>
<text class="d" transform="translate(61.20,615.70) rotate(-59.0) scale(0.798,1)" font-size="36.4">nx D</text>
<text transform="translate(155.6,792.3) scale(0.8,1)" font-family="'Liberation Sans','DejaVu Sans',sans-serif" font-size="29" letter-spacing="3.8" fill="#111">Hole pattern</text>
</g>
</svg></body></html>
